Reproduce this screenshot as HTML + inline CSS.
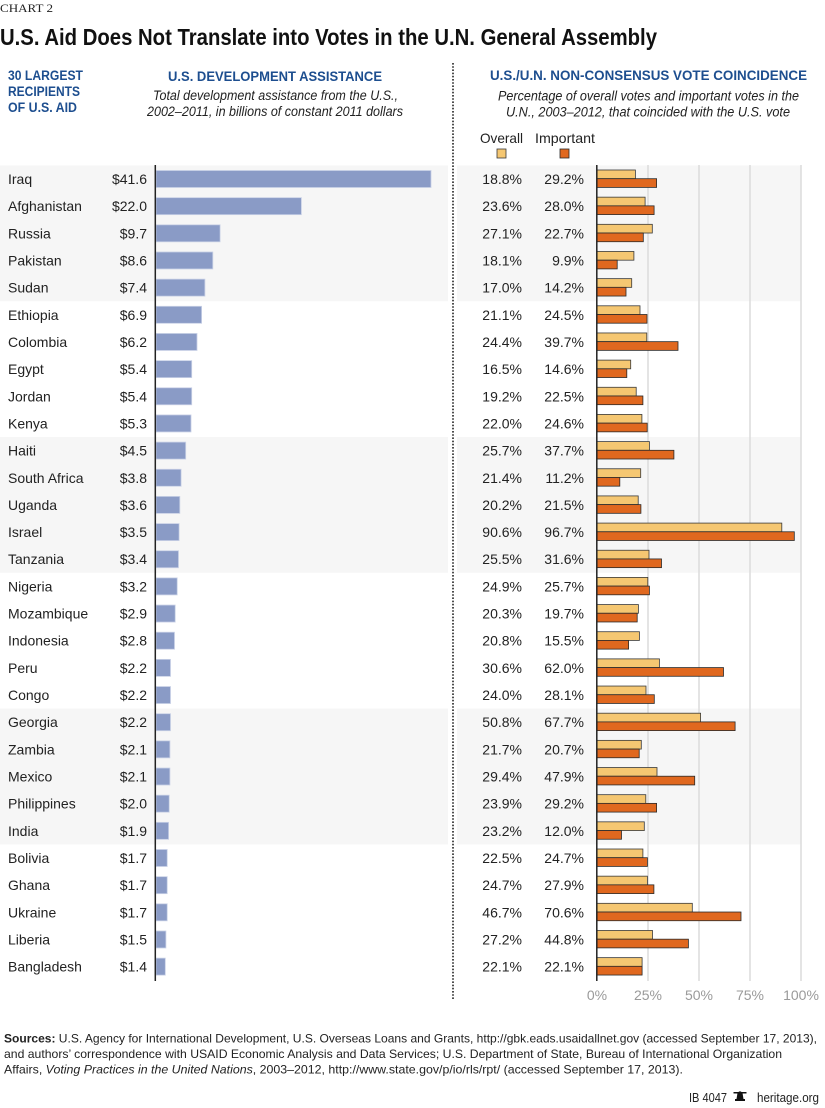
<!DOCTYPE html>
<html>
<head>
<meta charset="utf-8">
<style>
  html,body{margin:0;padding:0;background:#fff;}
  svg{display:block;}
  text{font-family:"Liberation Sans",Arial,sans-serif;}
  .n{font-size:14px;fill:#222;}
  .v{font-size:14px;fill:#222;text-anchor:end;}
  .b{fill:#8a9bc6;stroke:#c9d1e6;stroke-width:0.8;}
  .o{fill:#f5c772;stroke:#3a3a3a;stroke-width:0.8;}
  .i{fill:#e0681f;stroke:#2a2a2a;stroke-width:0.8;}
  .hd{font-size:13.5px;font-weight:bold;fill:#1d4e8f;}
  .it{font-size:13.5px;font-style:italic;fill:#222;}
  .tk{font-size:14px;fill:#9a9a9a;text-anchor:middle;}
  .ft{font-size:12px;fill:#222;}
</style>
</head>
<body>
<svg width="825" height="1108" viewBox="0 0 825 1108" xmlns="http://www.w3.org/2000/svg">
  <rect x="0" y="0" width="825" height="1108" fill="#fff"/>

  <!-- Header -->
  <text x="0" y="12" style="font-family:'Liberation Serif',serif;font-size:11.5px;fill:#222;" textLength="53" lengthAdjust="spacingAndGlyphs">CHART 2</text>
  <text x="0" y="45" style="font-size:23px;font-weight:bold;fill:#111;" textLength="657" lengthAdjust="spacingAndGlyphs">U.S. Aid Does Not Translate into Votes in the U.N. General Assembly</text>

  <text x="8" y="80" class="hd" textLength="75" lengthAdjust="spacingAndGlyphs">30 LARGEST</text>
  <text x="8" y="96" class="hd" textLength="72" lengthAdjust="spacingAndGlyphs">RECIPIENTS</text>
  <text x="8" y="112" class="hd" textLength="69" lengthAdjust="spacingAndGlyphs">OF U.S. AID</text>

  <text x="168" y="81" class="hd" textLength="214" lengthAdjust="spacingAndGlyphs">U.S. DEVELOPMENT ASSISTANCE</text>
  <text x="153" y="100" class="it" textLength="245" lengthAdjust="spacingAndGlyphs">Total development assistance from the U.S.,</text>
  <text x="147" y="116" class="it" textLength="256" lengthAdjust="spacingAndGlyphs">2002–2011, in billions of constant 2011 dollars</text>

  <text x="490" y="80" class="hd" textLength="317" lengthAdjust="spacingAndGlyphs">U.S./U.N. NON-CONSENSUS VOTE COINCIDENCE</text>
  <text x="498" y="100.5" class="it" textLength="301" lengthAdjust="spacingAndGlyphs">Percentage of overall votes and important votes in the</text>
  <text x="506" y="116.5" class="it" textLength="284" lengthAdjust="spacingAndGlyphs">U.N., 2003–2012, that coincided with the U.S. vote</text>

  <!-- Legend -->
  <text x="480" y="143" style="font-size:14px;fill:#222;" textLength="43" lengthAdjust="spacingAndGlyphs">Overall</text>
  <text x="535" y="143" style="font-size:14px;fill:#222;" textLength="60" lengthAdjust="spacingAndGlyphs">Important</text>
  <rect x="497" y="149" width="9" height="9" class="o"/>
  <rect x="560" y="149" width="9" height="9" class="i"/>

  <!-- Bands -->
  <g fill="#f6f6f6">
    <rect x="0" y="165.4" width="448" height="135.8"/>
    <rect x="457" y="165.4" width="344" height="135.8"/>
    <rect x="0" y="437" width="448" height="135.8"/>
    <rect x="457" y="437" width="344" height="135.8"/>
    <rect x="0" y="708.6" width="448" height="135.8"/>
    <rect x="457" y="708.6" width="344" height="135.8"/>
  </g>

  <!-- Gridlines -->
  <g stroke="#dcdcdc" stroke-width="1.5">
    <line x1="648" y1="165" x2="648" y2="981"/>
    <line x1="699" y1="165" x2="699" y2="981"/>
    <line x1="750" y1="165" x2="750" y2="981"/>
    <line x1="801" y1="165" x2="801" y2="981"/>
  </g>

  <!-- Dotted separator -->
  <line x1="453" y1="63" x2="453" y2="1000" stroke="#222" stroke-width="1.6" stroke-dasharray="1.6,1.6"/>

  <!-- Rows -->
  <g transform="translate(0,179)"><text x="8" y="5" class="n">Iraq</text><text x="147" y="5" class="v">$41.6</text><rect x="156" y="-8.5" width="275" height="17" class="b"/><text x="522" y="5" class="v">18.8%</text><text x="584" y="5" class="v">29.2%</text><rect x="597" y="-9" width="38.4" height="8.7" class="o"/><rect x="597" y="-0.3" width="59.6" height="8.7" class="i"/></g>
  <g transform="translate(0,206.16)"><text x="8" y="5" class="n">Afghanistan</text><text x="147" y="5" class="v">$22.0</text><rect x="156" y="-8.5" width="145.4" height="17" class="b"/><text x="522" y="5" class="v">23.6%</text><text x="584" y="5" class="v">28.0%</text><rect x="597" y="-9" width="48.1" height="8.7" class="o"/><rect x="597" y="-0.3" width="57.1" height="8.7" class="i"/></g>
  <g transform="translate(0,233.32)"><text x="8" y="5" class="n">Russia</text><text x="147" y="5" class="v">$9.7</text><rect x="156" y="-8.5" width="64.1" height="17" class="b"/><text x="522" y="5" class="v">27.1%</text><text x="584" y="5" class="v">22.7%</text><rect x="597" y="-9" width="55.3" height="8.7" class="o"/><rect x="597" y="-0.3" width="46.3" height="8.7" class="i"/></g>
  <g transform="translate(0,260.48)"><text x="8" y="5" class="n">Pakistan</text><text x="147" y="5" class="v">$8.6</text><rect x="156" y="-8.5" width="56.8" height="17" class="b"/><text x="522" y="5" class="v">18.1%</text><text x="584" y="5" class="v">9.9%</text><rect x="597" y="-9" width="36.9" height="8.7" class="o"/><rect x="597" y="-0.3" width="20.2" height="8.7" class="i"/></g>
  <g transform="translate(0,287.64)"><text x="8" y="5" class="n">Sudan</text><text x="147" y="5" class="v">$7.4</text><rect x="156" y="-8.5" width="48.9" height="17" class="b"/><text x="522" y="5" class="v">17.0%</text><text x="584" y="5" class="v">14.2%</text><rect x="597" y="-9" width="34.7" height="8.7" class="o"/><rect x="597" y="-0.3" width="29.0" height="8.7" class="i"/></g>
  <g transform="translate(0,314.8)"><text x="8" y="5" class="n">Ethiopia</text><text x="147" y="5" class="v">$6.9</text><rect x="156" y="-8.5" width="45.6" height="17" class="b"/><text x="522" y="5" class="v">21.1%</text><text x="584" y="5" class="v">24.5%</text><rect x="597" y="-9" width="43.0" height="8.7" class="o"/><rect x="597" y="-0.3" width="50.0" height="8.7" class="i"/></g>
  <g transform="translate(0,341.96)"><text x="8" y="5" class="n">Colombia</text><text x="147" y="5" class="v">$6.2</text><rect x="156" y="-8.5" width="41.0" height="17" class="b"/><text x="522" y="5" class="v">24.4%</text><text x="584" y="5" class="v">39.7%</text><rect x="597" y="-9" width="49.8" height="8.7" class="o"/><rect x="597" y="-0.3" width="81.0" height="8.7" class="i"/></g>
  <g transform="translate(0,369.12)"><text x="8" y="5" class="n">Egypt</text><text x="147" y="5" class="v">$5.4</text><rect x="156" y="-8.5" width="35.7" height="17" class="b"/><text x="522" y="5" class="v">16.5%</text><text x="584" y="5" class="v">14.6%</text><rect x="597" y="-9" width="33.7" height="8.7" class="o"/><rect x="597" y="-0.3" width="29.8" height="8.7" class="i"/></g>
  <g transform="translate(0,396.28)"><text x="8" y="5" class="n">Jordan</text><text x="147" y="5" class="v">$5.4</text><rect x="156" y="-8.5" width="35.7" height="17" class="b"/><text x="522" y="5" class="v">19.2%</text><text x="584" y="5" class="v">22.5%</text><rect x="597" y="-9" width="39.2" height="8.7" class="o"/><rect x="597" y="-0.3" width="45.9" height="8.7" class="i"/></g>
  <g transform="translate(0,423.44)"><text x="8" y="5" class="n">Kenya</text><text x="147" y="5" class="v">$5.3</text><rect x="156" y="-8.5" width="35.0" height="17" class="b"/><text x="522" y="5" class="v">22.0%</text><text x="584" y="5" class="v">24.6%</text><rect x="597" y="-9" width="44.9" height="8.7" class="o"/><rect x="597" y="-0.3" width="50.2" height="8.7" class="i"/></g>
  <g transform="translate(0,450.6)"><text x="8" y="5" class="n">Haiti</text><text x="147" y="5" class="v">$4.5</text><rect x="156" y="-8.5" width="29.7" height="17" class="b"/><text x="522" y="5" class="v">25.7%</text><text x="584" y="5" class="v">37.7%</text><rect x="597" y="-9" width="52.4" height="8.7" class="o"/><rect x="597" y="-0.3" width="76.9" height="8.7" class="i"/></g>
  <g transform="translate(0,477.76)"><text x="8" y="5" class="n">South Africa</text><text x="147" y="5" class="v">$3.8</text><rect x="156" y="-8.5" width="25.1" height="17" class="b"/><text x="522" y="5" class="v">21.4%</text><text x="584" y="5" class="v">11.2%</text><rect x="597" y="-9" width="43.7" height="8.7" class="o"/><rect x="597" y="-0.3" width="22.8" height="8.7" class="i"/></g>
  <g transform="translate(0,504.92)"><text x="8" y="5" class="n">Uganda</text><text x="147" y="5" class="v">$3.6</text><rect x="156" y="-8.5" width="23.8" height="17" class="b"/><text x="522" y="5" class="v">20.2%</text><text x="584" y="5" class="v">21.5%</text><rect x="597" y="-9" width="41.2" height="8.7" class="o"/><rect x="597" y="-0.3" width="43.9" height="8.7" class="i"/></g>
  <g transform="translate(0,532.08)"><text x="8" y="5" class="n">Israel</text><text x="147" y="5" class="v">$3.5</text><rect x="156" y="-8.5" width="23.1" height="17" class="b"/><text x="522" y="5" class="v">90.6%</text><text x="584" y="5" class="v">96.7%</text><rect x="597" y="-9" width="184.8" height="8.7" class="o"/><rect x="597" y="-0.3" width="197.3" height="8.7" class="i"/></g>
  <g transform="translate(0,559.24)"><text x="8" y="5" class="n">Tanzania</text><text x="147" y="5" class="v">$3.4</text><rect x="156" y="-8.5" width="22.5" height="17" class="b"/><text x="522" y="5" class="v">25.5%</text><text x="584" y="5" class="v">31.6%</text><rect x="597" y="-9" width="52.0" height="8.7" class="o"/><rect x="597" y="-0.3" width="64.5" height="8.7" class="i"/></g>
  <g transform="translate(0,586.4)"><text x="8" y="5" class="n">Nigeria</text><text x="147" y="5" class="v">$3.2</text><rect x="156" y="-8.5" width="21.2" height="17" class="b"/><text x="522" y="5" class="v">24.9%</text><text x="584" y="5" class="v">25.7%</text><rect x="597" y="-9" width="50.8" height="8.7" class="o"/><rect x="597" y="-0.3" width="52.4" height="8.7" class="i"/></g>
  <g transform="translate(0,613.56)"><text x="8" y="5" class="n">Mozambique</text><text x="147" y="5" class="v">$2.9</text><rect x="156" y="-8.5" width="19.2" height="17" class="b"/><text x="522" y="5" class="v">20.3%</text><text x="584" y="5" class="v">19.7%</text><rect x="597" y="-9" width="41.4" height="8.7" class="o"/><rect x="597" y="-0.3" width="40.2" height="8.7" class="i"/></g>
  <g transform="translate(0,640.72)"><text x="8" y="5" class="n">Indonesia</text><text x="147" y="5" class="v">$2.8</text><rect x="156" y="-8.5" width="18.5" height="17" class="b"/><text x="522" y="5" class="v">20.8%</text><text x="584" y="5" class="v">15.5%</text><rect x="597" y="-9" width="42.4" height="8.7" class="o"/><rect x="597" y="-0.3" width="31.6" height="8.7" class="i"/></g>
  <g transform="translate(0,667.88)"><text x="8" y="5" class="n">Peru</text><text x="147" y="5" class="v">$2.2</text><rect x="156" y="-8.5" width="14.5" height="17" class="b"/><text x="522" y="5" class="v">30.6%</text><text x="584" y="5" class="v">62.0%</text><rect x="597" y="-9" width="62.4" height="8.7" class="o"/><rect x="597" y="-0.3" width="126.5" height="8.7" class="i"/></g>
  <g transform="translate(0,695.04)"><text x="8" y="5" class="n">Congo</text><text x="147" y="5" class="v">$2.2</text><rect x="156" y="-8.5" width="14.5" height="17" class="b"/><text x="522" y="5" class="v">24.0%</text><text x="584" y="5" class="v">28.1%</text><rect x="597" y="-9" width="49.0" height="8.7" class="o"/><rect x="597" y="-0.3" width="57.3" height="8.7" class="i"/></g>
  <g transform="translate(0,722.2)"><text x="8" y="5" class="n">Georgia</text><text x="147" y="5" class="v">$2.2</text><rect x="156" y="-8.5" width="14.5" height="17" class="b"/><text x="522" y="5" class="v">50.8%</text><text x="584" y="5" class="v">67.7%</text><rect x="597" y="-9" width="103.6" height="8.7" class="o"/><rect x="597" y="-0.3" width="138.1" height="8.7" class="i"/></g>
  <g transform="translate(0,749.36)"><text x="8" y="5" class="n">Zambia</text><text x="147" y="5" class="v">$2.1</text><rect x="156" y="-8.5" width="13.9" height="17" class="b"/><text x="522" y="5" class="v">21.7%</text><text x="584" y="5" class="v">20.7%</text><rect x="597" y="-9" width="44.3" height="8.7" class="o"/><rect x="597" y="-0.3" width="42.2" height="8.7" class="i"/></g>
  <g transform="translate(0,776.52)"><text x="8" y="5" class="n">Mexico</text><text x="147" y="5" class="v">$2.1</text><rect x="156" y="-8.5" width="13.9" height="17" class="b"/><text x="522" y="5" class="v">29.4%</text><text x="584" y="5" class="v">47.9%</text><rect x="597" y="-9" width="60.0" height="8.7" class="o"/><rect x="597" y="-0.3" width="97.7" height="8.7" class="i"/></g>
  <g transform="translate(0,803.68)"><text x="8" y="5" class="n">Philippines</text><text x="147" y="5" class="v">$2.0</text><rect x="156" y="-8.5" width="13.2" height="17" class="b"/><text x="522" y="5" class="v">23.9%</text><text x="584" y="5" class="v">29.2%</text><rect x="597" y="-9" width="48.8" height="8.7" class="o"/><rect x="597" y="-0.3" width="59.6" height="8.7" class="i"/></g>
  <g transform="translate(0,830.84)"><text x="8" y="5" class="n">India</text><text x="147" y="5" class="v">$1.9</text><rect x="156" y="-8.5" width="12.6" height="17" class="b"/><text x="522" y="5" class="v">23.2%</text><text x="584" y="5" class="v">12.0%</text><rect x="597" y="-9" width="47.3" height="8.7" class="o"/><rect x="597" y="-0.3" width="24.5" height="8.7" class="i"/></g>
  <g transform="translate(0,858)"><text x="8" y="5" class="n">Bolivia</text><text x="147" y="5" class="v">$1.7</text><rect x="156" y="-8.5" width="11.2" height="17" class="b"/><text x="522" y="5" class="v">22.5%</text><text x="584" y="5" class="v">24.7%</text><rect x="597" y="-9" width="45.9" height="8.7" class="o"/><rect x="597" y="-0.3" width="50.4" height="8.7" class="i"/></g>
  <g transform="translate(0,885.16)"><text x="8" y="5" class="n">Ghana</text><text x="147" y="5" class="v">$1.7</text><rect x="156" y="-8.5" width="11.2" height="17" class="b"/><text x="522" y="5" class="v">24.7%</text><text x="584" y="5" class="v">27.9%</text><rect x="597" y="-9" width="50.4" height="8.7" class="o"/><rect x="597" y="-0.3" width="56.9" height="8.7" class="i"/></g>
  <g transform="translate(0,912.32)"><text x="8" y="5" class="n">Ukraine</text><text x="147" y="5" class="v">$1.7</text><rect x="156" y="-8.5" width="11.2" height="17" class="b"/><text x="522" y="5" class="v">46.7%</text><text x="584" y="5" class="v">70.6%</text><rect x="597" y="-9" width="95.3" height="8.7" class="o"/><rect x="597" y="-0.3" width="144.0" height="8.7" class="i"/></g>
  <g transform="translate(0,939.48)"><text x="8" y="5" class="n">Liberia</text><text x="147" y="5" class="v">$1.5</text><rect x="156" y="-8.5" width="9.9" height="17" class="b"/><text x="522" y="5" class="v">27.2%</text><text x="584" y="5" class="v">44.8%</text><rect x="597" y="-9" width="55.5" height="8.7" class="o"/><rect x="597" y="-0.3" width="91.4" height="8.7" class="i"/></g>
  <g transform="translate(0,966.64)"><text x="8" y="5" class="n">Bangladesh</text><text x="147" y="5" class="v">$1.4</text><rect x="156" y="-8.5" width="9.3" height="17" class="b"/><text x="522" y="5" class="v">22.1%</text><text x="584" y="5" class="v">22.1%</text><rect x="597" y="-9" width="45.1" height="8.7" class="o"/><rect x="597" y="-0.3" width="45.1" height="8.7" class="i"/></g>

  <!-- Axes -->
  <line x1="155.3" y1="165" x2="155.3" y2="981" stroke="#222" stroke-width="1.5"/>
  <line x1="596.8" y1="165" x2="596.8" y2="981" stroke="#222" stroke-width="1.5"/>

  <!-- Tick labels -->
  <text x="597" y="1000" class="tk">0%</text>
  <text x="648" y="1000" class="tk">25%</text>
  <text x="699" y="1000" class="tk">50%</text>
  <text x="750" y="1000" class="tk">75%</text>
  <text x="801" y="1000" class="tk">100%</text>

  <!-- Footer -->
  <text x="4" y="1042.5" class="ft" textLength="813" lengthAdjust="spacingAndGlyphs"><tspan font-weight="bold">Sources:</tspan> U.S. Agency for International Development, U.S. Overseas Loans and Grants, http://gbk.eads.usaidallnet.gov (accessed September 17, 2013),</text>
  <text x="4" y="1058" class="ft" textLength="778" lengthAdjust="spacingAndGlyphs">and authors’ correspondence with USAID Economic Analysis and Data Services; U.S. Department of State, Bureau of International Organization</text>
  <text x="4" y="1073.5" class="ft" textLength="679" lengthAdjust="spacingAndGlyphs">Affairs, <tspan font-style="italic">Voting Practices in the United Nations</tspan>, 2003–2012, http://www.state.gov/p/io/rls/rpt/ (accessed September 17, 2013).</text>

  <text x="689" y="1102" class="ft" style="font-size:13px;" textLength="38" lengthAdjust="spacingAndGlyphs">IB 4047</text>
  <g fill="#111">
    <path d="M735 1101 L745 1101 L745 1099 L743.5 1099 L742.5 1093 Q740 1089.5 737.5 1093 L736.5 1099 L735 1099 Z"/>
    <rect x="733.5" y="1092" width="13" height="1.5"/>
  </g>
  <text x="757" y="1102" class="ft" style="font-size:13px;" textLength="62" lengthAdjust="spacingAndGlyphs">heritage.org</text>
</svg>
</body>
</html>
